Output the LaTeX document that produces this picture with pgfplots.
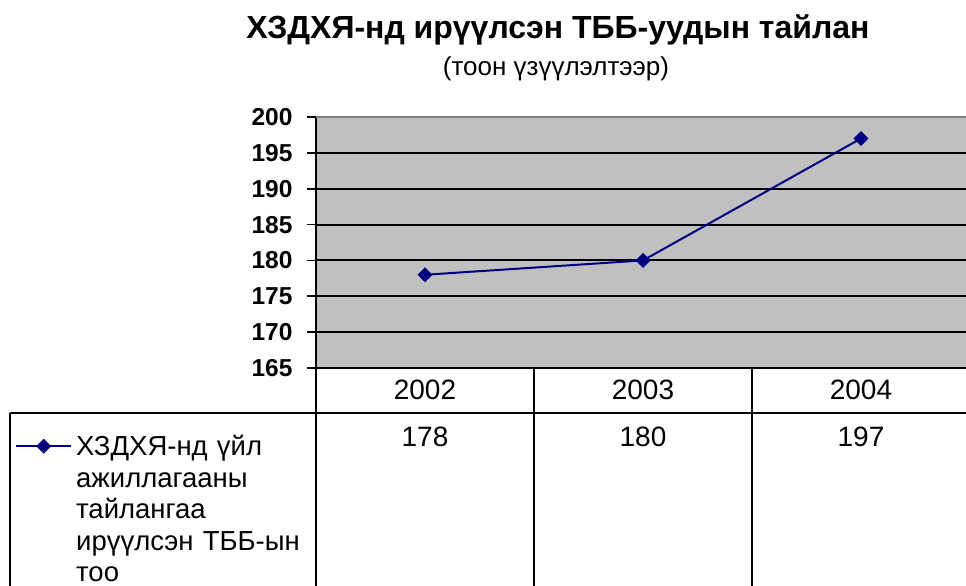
\documentclass[border=0pt]{standalone}
\usepackage{pgfplots}
\pgfplotsset{compat=1.18}
\usepackage{fontspec}
\setmainfont{Liberation Sans}
\definecolor{navyline}{HTML}{000080}
\definecolor{plotbg}{HTML}{C0C0C0}
\definecolor{topgray}{HTML}{808080}
\begin{document}
\begin{tikzpicture}
\useasboundingbox (0pt,0pt) rectangle (966pt,586pt);
\clip (0pt,0pt) rectangle (966pt,586pt);
\node[anchor=base, font=\bfseries\fontsize{32}{36}\selectfont] at (558pt,547pt) {ХЗДХЯ-нд ирүүлсэн ТББ-уудын тайлан};
\node[anchor=base, font=\fontsize{26}{30}\selectfont] at (556pt,510pt) {(тоон үзүүлэлтээр)};
\begin{axis}[
  at={(316pt,218pt)}, anchor=south west,
  scale only axis, width=654pt, height=251pt,
  xmin=-0.5, xmax=2.5, ymin=165, ymax=200,
  xtick={0,1,2}, xticklabels={2002,2003,2004},
  ytick={165,170,...,200},
  /pgf/number format/assume math mode=true,
  axis x line*=bottom, axis y line*=left,
  axis line style={black, line width=2.2pt, -},
  x axis line style={-}, y axis line style={-},
  axis background/.style={fill=plotbg},
  ymajorgrids, major grid style={black, line width=2pt},
  tick align=outside, major tick length=9pt,
  ytick style={black, line width=1.8pt},
  xtick style={draw=none},
  yticklabel style={font=\bfseries\fontsize{24.5}{28}\selectfont, anchor=east, xshift=-11pt},
  xticklabel style={font=\fontsize{28}{32}\selectfont, anchor=base, yshift=-22pt},
  clip=false,
  legend style={at={(axis cs:-1.8807,155.65)}, anchor=north west, draw=none, fill=none,
    font=\fontsize{27.5}{31.5}\selectfont, row sep=0pt, inner sep=0pt,
    nodes={align=left, text width=240pt, inner sep=0pt}},
  legend image code/.code={\draw[mark repeat=2, mark phase=2] plot coordinates {(0pt,0pt)(27.5pt,0pt)(55pt,0pt)}; \path (59pt,0pt);},
  legend cell align=left,
]
\addplot[navyline, line width=2pt, mark=square*, mark size=5pt, mark options={fill=navyline, line width=0.5pt, rotate=45}]
  coordinates {(0,178) (1,180) (2,197)};
\addlegendentry{ХЗДХЯ-нд үйл ажиллагааны тайлангаа ирүүлсэн ТББ-ын тоо}
\draw[topgray, line width=2.2pt] (axis cs:-0.5,200) -- (axis cs:2.5,200);
% data table
\draw[black, line width=2pt] (axis cs:-1.9037,158.725) -- (axis cs:2.6,158.725);
\draw[black, line width=2pt] (axis cs:-1.9037,158.725) -- (axis cs:-1.9037,133);
\draw[black, line width=2.2pt] (axis cs:-0.5,165) -- (axis cs:-0.5,133);
\draw[black, line width=2pt] (axis cs:0.5,165) -- (axis cs:0.5,133);
\draw[black, line width=2pt] (axis cs:1.5,165) -- (axis cs:1.5,133);
\draw[black, line width=2pt] (axis cs:2.5,165) -- (axis cs:2.5,133);
\node[anchor=base, font=\fontsize{28}{32}\selectfont] at (axis cs:0,154.12) {178};
\node[anchor=base, font=\fontsize{28}{32}\selectfont] at (axis cs:1,154.12) {180};
\node[anchor=base, font=\fontsize{28}{32}\selectfont] at (axis cs:2,154.12) {197};
\end{axis}
\end{tikzpicture}
\end{document}
